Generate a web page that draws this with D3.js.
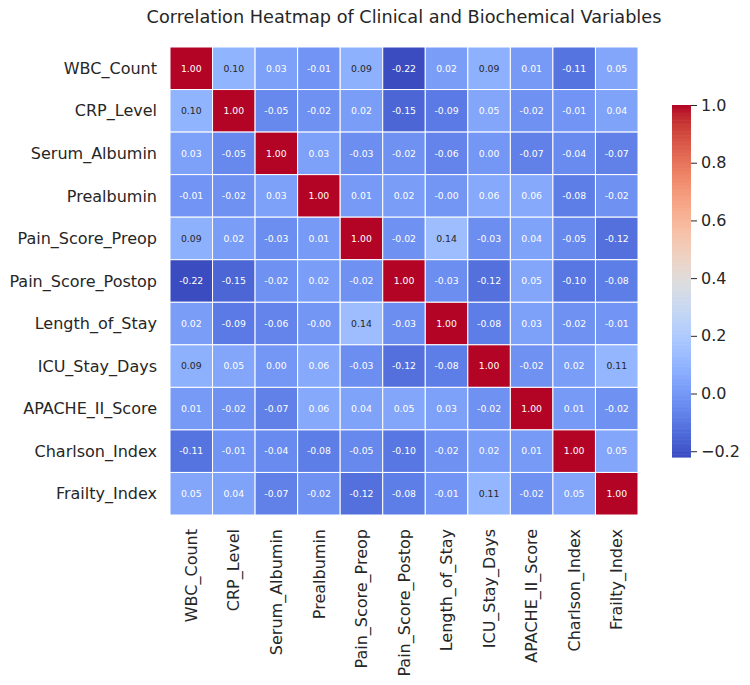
<!DOCTYPE html>
<html>
<head>
<meta charset="utf-8">
<script src="https://cdn.jsdelivr.net/npm/d3@7"></script>
<style>
  body { margin: 0; background: #fff; }
  svg { font-family: "DejaVu Sans", sans-serif; }
</style>
</head>
<body>
<svg id="chart" width="750" height="685"></svg>
<script>
// variable names (rows and columns)
const variables = ["WBC_Count", "CRP_Level", "Serum_Albumin", "Prealbumin", "Pain_Score_Preop",
  "Pain_Score_Postop", "Length_of_Stay", "ICU_Stay_Days", "APACHE_II_Score", "Charlson_Index", "Frailty_Index"];

// correlation matrix, row by row
const corrValues = [
  [1.00, 0.10, 0.03, -0.01, 0.09, -0.22, 0.02, 0.09, 0.01, -0.11, 0.05],
  [0.10, 1.00, -0.05, -0.02, 0.02, -0.15, -0.09, 0.05, -0.02, -0.01, 0.04],
  [0.03, -0.05, 1.00, 0.03, -0.03, -0.02, -0.06, 0.00, -0.07, -0.04, -0.07],
  [-0.01, -0.02, 0.03, 1.00, 0.01, 0.02, -0.004, 0.06, 0.06, -0.08, -0.02],
  [0.09, 0.02, -0.03, 0.01, 1.00, -0.02, 0.14, -0.03, 0.04, -0.05, -0.12],
  [-0.22, -0.15, -0.02, 0.02, -0.02, 1.00, -0.03, -0.12, 0.05, -0.10, -0.08],
  [0.02, -0.09, -0.06, -0.004, 0.14, -0.03, 1.00, -0.08, 0.03, -0.02, -0.01],
  [0.09, 0.05, 0.00, 0.06, -0.03, -0.12, -0.08, 1.00, -0.02, 0.02, 0.11],
  [0.01, -0.02, -0.07, 0.06, 0.04, 0.05, 0.03, -0.02, 1.00, 0.01, -0.02],
  [-0.11, -0.01, -0.04, -0.08, -0.05, -0.10, -0.02, 0.02, 0.01, 1.00, 0.05],
  [0.05, 0.04, -0.07, -0.02, -0.12, -0.08, -0.01, 0.11, -0.02, 0.05, 1.00]
];

const colorbarTicks = [-0.2, 0.0, 0.2, 0.4, 0.6, 0.8, 1.0];
const titleText = "Correlation Heatmap of Clinical and Biochemical Variables";

// coolwarm lookup (Moreland diverging map)
const coolwarm = [
  [59,76,192],[68,90,204],[77,104,215],[87,117,225],[98,130,234],[108,142,241],[119,154,247],
  [130,165,251],[141,176,254],[152,185,255],[163,194,255],[174,201,253],[184,208,249],[194,213,244],
  [204,217,238],[213,219,230],[221,221,221],[229,216,209],[236,211,197],[241,204,185],[245,196,173],
  [247,187,160],[247,177,148],[247,166,135],[244,154,123],[241,141,111],[236,127,99],[229,112,88],
  [222,96,77],[213,80,66],[203,62,56],[192,40,47],[180,4,38]
];
function coolwarmRGB(t) {
  t = Math.max(0, Math.min(1, t));
  const p = t * (coolwarm.length - 1);
  const i = Math.min(Math.floor(p), coolwarm.length - 2);
  const f = p - i;
  return coolwarm[i].map((c, k) => c + (coolwarm[i + 1][k] - c) * f);
}

const vmin = d3.min(corrValues.flat());
const vmax = d3.max(corrValues.flat());
const norm = d3.scaleLinear().domain([vmin, vmax]).range([0, 1]);
const color = v => d3.rgb(...coolwarmRGB(norm(v))).formatHex();

// text colour like seaborn (luminance threshold)
function textColor(v) {
  const lin = coolwarmRGB(norm(v)).map(c => {
    c = c / 255;
    return c <= 0.03928 ? c / 12.92 : Math.pow((c + 0.055) / 1.055, 2.4);
  });
  const lum = 0.2126 * lin[0] + 0.7152 * lin[1] + 0.0722 * lin[2];
  return lum > 0.408 ? "#262626" : "#ffffff";
}

const svg = d3.select("#chart");
svg.append("rect").attr("width", 750).attr("height", 685).attr("fill", "#fff");

// set grid dimensions
const gridLeft = 170, gridTop = 47, gridSize = 468;

const x = d3.scaleBand().domain(variables).range([gridLeft, gridLeft + gridSize]);
const y = d3.scaleBand().domain(variables).range([gridTop, gridTop + gridSize]);

// title
svg.append("text")
  .attr("x", gridLeft + gridSize / 2)
  .attr("y", 23)
  .attr("text-anchor", "middle")
  .attr("font-size", 17.7)
  .attr("fill", "#262626")
  .text(titleText);

// cells
const cells = [];
corrValues.forEach((row, i) => row.forEach((v, j) => cells.push({ r: variables[i], c: variables[j], v: v })));

const g = svg.append("g");
g.selectAll("rect.cell")
  .data(cells)
  .enter().append("rect")
  .attr("class", "cell")
  .attr("x", d => x(d.c))
  .attr("y", d => y(d.r))
  .attr("width", x.bandwidth())
  .attr("height", y.bandwidth())
  .attr("fill", d => color(d.v))
  .attr("stroke", "#fff")
  .attr("stroke-width", 1);

g.selectAll("text.annot")
  .data(cells)
  .enter().append("text")
  .attr("class", "annot")
  .attr("x", d => x(d.c) + x.bandwidth() / 2)
  .attr("y", d => y(d.r) + y.bandwidth() / 2)
  .attr("dy", "0.35em")
  .attr("text-anchor", "middle")
  .attr("font-size", 9.3)
  .attr("fill", d => textColor(d.v))
  .text(d => d.v.toFixed(2));

// y axis labels
svg.append("g")
  .selectAll("text")
  .data(variables)
  .enter().append("text")
  .attr("x", gridLeft - 13)
  .attr("y", d => y(d) + y.bandwidth() / 2)
  .attr("dy", "0.35em")
  .attr("text-anchor", "end")
  .attr("font-size", 16)
  .attr("fill", "#262626")
  .text(d => d);

// x axis labels, rotated
svg.append("g")
  .selectAll("text")
  .data(variables)
  .enter().append("text")
  .attr("transform", d => `translate(${x(d) + x.bandwidth() / 2}, ${gridTop + gridSize + 14}) rotate(-90)`)
  .attr("dy", "0.35em")
  .attr("text-anchor", "end")
  .attr("font-size", 16)
  .attr("fill", "#262626")
  .text(d => d);

// colorbar
const cbLeft = 672, cbWidth = 19, cbTop = 105, cbBottom = 457;
const cbScale = d3.scaleLinear().domain([vmin, vmax]).range([cbBottom, cbTop]);
const cbSteps = d3.range(0, 256);
const cb = svg.append("g");
cb.selectAll("rect")
  .data(cbSteps)
  .enter().append("rect")
  .attr("x", cbLeft)
  .attr("width", cbWidth)
  .attr("y", s => cbScale(vmin + (vmax - vmin) * (s + 1) / 256))
  .attr("height", (cbBottom - cbTop) / 256 + 0.6)
  .attr("fill", s => d3.rgb(...coolwarmRGB((s + 0.5) / 256)).formatHex());

const cbAxis = svg.append("g")
  .attr("transform", `translate(${cbLeft + cbWidth}, 0)`)
  .call(d3.axisRight(cbScale).tickValues(colorbarTicks).tickFormat(d3.format(".1f")).tickSize(6).tickPadding(4));
cbAxis.select(".domain").remove();
cbAxis.selectAll("line").attr("stroke", "#262626").attr("stroke-width", 1);
cbAxis.selectAll("text")
  .attr("font-family", "DejaVu Sans, sans-serif")
  .attr("font-size", 16)
  .attr("fill", "#262626");
</script>
</body>
</html>
